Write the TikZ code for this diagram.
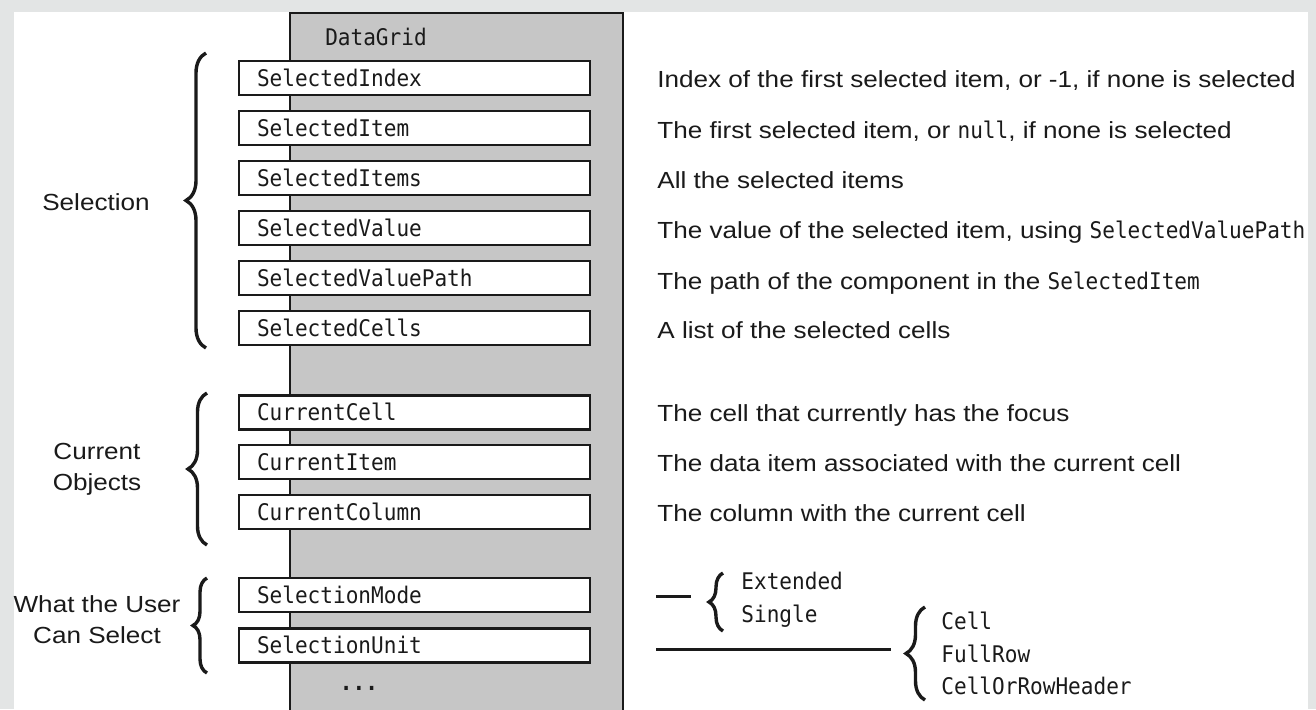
\documentclass[tikz,border=0pt]{standalone}
\usepackage{fontspec}
\setmainfont{Liberation Sans}[FakeStretch=1.12]
\newfontfamily\monof{DejaVu Sans Mono}[FakeStretch=0.92]
\usetikzlibrary{decorations.pathreplacing}
\definecolor{bggray}{HTML}{E3E5E5}
\definecolor{colgray}{HTML}{C6C6C6}
\definecolor{ink}{HTML}{1A1A1A}
\newcommand\sansfs{\fontsize{11.65pt}{15.5pt}\selectfont}
\newcommand\monofs{\monof\fontsize{11.45pt}{16.5pt}\selectfont}
\newcommand\code[1]{{\monofs #1}}
\tikzset{
  prop/.style={draw=ink, fill=white, line width=1.3pt, minimum height=17pt,
    text width=157.5pt, inner xsep=9pt, inner ysep=0pt, align=left,
    text height=8.3pt, text depth=0pt, font=\monofs, text=ink},
  desc/.style={anchor=west, inner sep=0pt, text height=8.3pt, text depth=0pt,
    font=\sansfs, text=ink},
  enumtxt/.style={anchor=west, inner sep=0pt, text height=8.3pt, text depth=0pt,
    font=\monofs, text=ink},
  grouplbl/.style={align=center, inner sep=0pt, font=\sansfs, text=ink},
  bracestyle/.style={draw=ink, line width=1.7pt, decorate,
    decoration={brace, amplitude=#1}},
  rule/.style={draw=ink, line width=1.5pt}
}
\begin{document}
\begin{tikzpicture}[x=0.5pt, y=-0.5pt]
\useasboundingbox (0,0) rectangle (1316,709);
\clip (0,0) rectangle (1316,709);
% background
\fill[bggray] (0,0) rectangle (1316,709);
\fill[white] (14,12) rectangle (1308,709);
% DataGrid column
\draw[draw=ink, fill=colgray, line width=1.1pt] (290,13) rectangle (623,720);
\node[inner sep=0pt, text height=8.3pt, text depth=0pt, font=\monofs, text=ink] (dg) at (376,37) {DataGrid};
% property boxes
\node[prop] (p1) at (414.5,78) {SelectedIndex};
\node[prop] (p2) at (414.5,128) {SelectedItem};
\node[prop] (p3) at (414.5,178) {SelectedItems};
\node[prop] (p4) at (414.5,228) {SelectedValue};
\node[prop] (p5) at (414.5,278) {SelectedValuePath};
\node[prop] (p6) at (414.5,328) {SelectedCells};
\node[prop] (c1) at (414.5,412.5) {CurrentCell};
\node[prop] (c2) at (414.5,462) {CurrentItem};
\node[prop] (c3) at (414.5,512) {CurrentColumn};
\node[prop] (u1) at (414.5,595) {SelectionMode};
\node[prop] (u2) at (414.5,645.5) {SelectionUnit};
\node[inner sep=0pt, font=\monofs\bfseries, text=ink] (more) at (359,688) {...};
% descriptions
\node[desc] (d1) at (657,79) {Index of the first selected item, or -1, if none is selected};
\node[desc] (d2) at (657,130) {The first selected item, or \code{null}, if none is selected};
\node[desc] (d3) at (657,180) {All the selected items};
\node[desc] (d4) at (657,230) {The value of the selected item, using \code{SelectedValuePath}};
\node[desc] (d5) at (657,281) {The path of the component in the \code{SelectedItem}};
\node[desc] (d6) at (657,330) {A list of the selected cells};
\node[desc] (e1) at (657,413) {The cell that currently has the focus};
\node[desc] (e2) at (657,463) {The data item associated with the current cell};
\node[desc] (e3) at (657,513) {The column with the current cell};
% group labels
\node[grouplbl, text height=8.3pt, text depth=0pt] (gsel) at (96,202) {Selection};
\node[grouplbl] (gcur) at (97,469) {Current\\Objects};
\node[grouplbl] (gusr) at (97,620) {What the User\\Can Select};
% group braces
\coordinate (bs1) at (206,348); \coordinate (bs2) at (206,53);
\coordinate (bc1) at (207,545); \coordinate (bc2) at (207,393);
\coordinate (bu1) at (207,673); \coordinate (bu2) at (207,578);
\draw[bracestyle=10pt] (bs1) -- (bs2);
\draw[bracestyle=9.5pt] (bc1) -- (bc2);
\draw[bracestyle=7pt] (bu1) -- (bu2);
% SelectionMode values
\coordinate (m1) at (656,596); \coordinate (m2) at (691,596);
\draw[rule] (m1) -- (m2);
\coordinate (mb1) at (723,631); \coordinate (mb2) at (723,573);
\draw[bracestyle=7pt] (mb1) -- (mb2);
\node[enumtxt] (ext) at (741,581) {Extended};
\node[enumtxt] (sgl) at (741,614) {Single};
% SelectionUnit values
\coordinate (n1) at (656,649); \coordinate (n2) at (891,649);
\draw[rule] (n1) -- (n2);
\coordinate (nb1) at (925,700); \coordinate (nb2) at (925,607);
\draw[bracestyle=9.5pt] (nb1) -- (nb2);
\node[enumtxt] (cell) at (941,621) {Cell};
\node[enumtxt] (frow) at (941,654) {FullRow};
\node[enumtxt] (corh) at (941,686) {CellOrRowHeader};
\end{tikzpicture}
\end{document}
